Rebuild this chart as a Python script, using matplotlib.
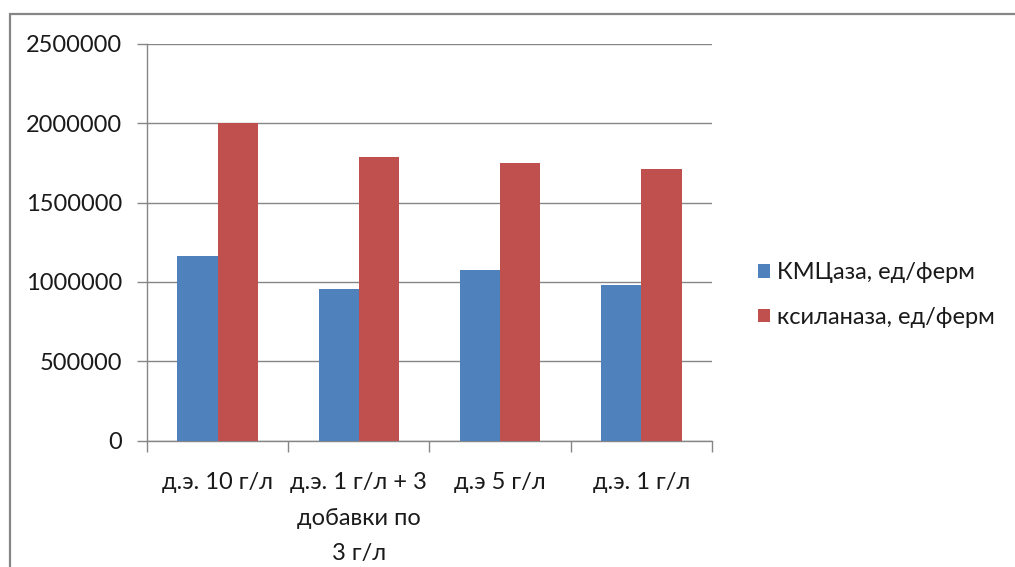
import matplotlib.pyplot as plt
import numpy as np
from matplotlib.patches import Rectangle

plt.rcParams['font.family'] = ['Lato', 'DejaVu Sans']

categories = ['д.э. 10 г/л', 'д.э. 1 г/л + 3\nдобавки по\n3 г/л', 'д.э 5 г/л', 'д.э. 1 г/л']
cmc = [1163000, 955000, 1075000, 980000]
xyl = [2000000, 1787000, 1750000, 1712000]
series_names = ['КМЦаза, ед/ферм', 'ксиланаза, ед/ферм']

blue = '#4F81BD'
red = '#C0504D'
grey = '#868686'
txt = '#1a1a1a'
fs = 17

fig = plt.figure(figsize=(10.15, 5.67), dpi=100)
ax = fig.add_axes([147 / 1015, 1 - 440.5 / 567, (712 - 147) / 1015, (440.5 - 44) / 567])

x = np.arange(len(categories))
w = 1 / 3.5
b1 = ax.bar(x - w / 2, cmc, w, color=blue, zorder=3)
b2 = ax.bar(x + w / 2, xyl, w, color=red, zorder=3)

ax.set_xlim(-0.5, len(categories) - 0.5)
ax.set_ylim(0, 2500000)
ax.set_yticks(np.arange(0, 2500001, 500000))
ax.set_yticklabels([str(v) for v in range(0, 2500001, 500000)])
ax.yaxis.grid(True, color=grey, lw=1.0, zorder=0)

# category ticks sit on the group boundaries, labels in the middle
ax.set_xticks(np.arange(-0.5, len(categories)), minor=False)
ax.set_xticklabels([])
ax.set_xticks(x, minor=True)
ax.set_xticklabels(categories, minor=True, linespacing=1.84)
ax.tick_params(axis='x', which='minor', length=0, pad=23, labelsize=fs, labelcolor=txt)
ax.tick_params(axis='x', which='major', length=8, width=1, color=grey)
ax.tick_params(axis='y', length=7, width=1, color=grey, pad=11, labelsize=fs, labelcolor=txt)

for s in ['top', 'right']:
    ax.spines[s].set_visible(False)
for s in ['left', 'bottom']:
    ax.spines[s].set_color(grey)
    ax.spines[s].set_linewidth(1.0)

fig.legend([b1, b2], series_names, loc='center left', bbox_to_anchor=(737 / 1015, 1 - 295 / 567),
           frameon=False, fontsize=fs, handlelength=0.5, handleheight=0.5,
           handletextpad=0.3, labelspacing=1.0, labelcolor=txt)

# outer chart frame
fig.add_artist(Rectangle((10 / 1015, -0.05), 1.2, 1.05 - 13.5 / 567, transform=fig.transFigure,
                         fill=False, ec=grey, lw=1.6, clip_on=False))

fig.savefig('out.png', dpi=100)
